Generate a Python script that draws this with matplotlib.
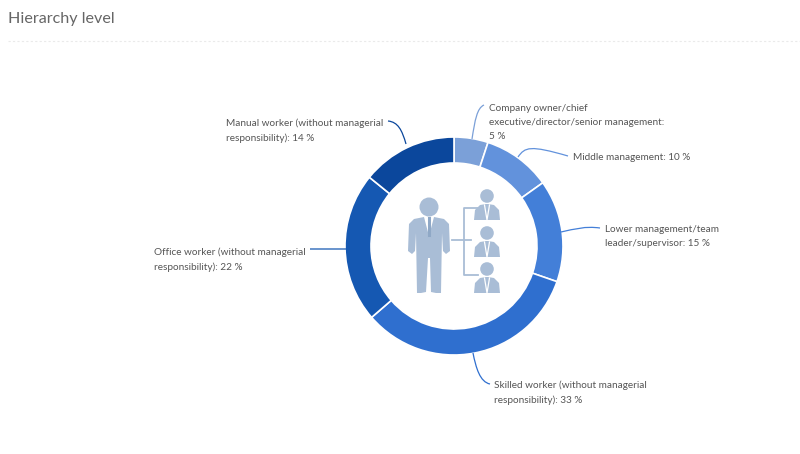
import matplotlib
matplotlib.use("Agg")
import matplotlib.pyplot as plt
from matplotlib.patches import Circle, PathPatch, Polygon
from matplotlib.path import Path

plt.rcParams['font.family'] = ['Lato', 'DejaVu Sans']

title = "Hierarchy level"
categories = ["Company owner/chief\nexecutive/director/senior management:\n5 %",
              "Middle management: 10 %",
              "Lower management/team\nleader/supervisor: 15 %",
              "Skilled worker (without managerial\nresponsibility): 33 %",
              "Office worker (without managerial\nresponsibility): 22 %",
              "Manual worker (without managerial\nresponsibility): 14 %"]
values = [5, 10, 15, 33, 22, 14]
colors = ["#7BA0D8", "#6292DC", "#437FD8", "#2F6FCF", "#1558B2", "#0B479C"]
label_xy = [(489, 104), (573, 153.5), (605, 225), (494, 380), (154, 247), (226, 118)]
leaders = [
    [(472, 139), (475, 120), (477, 108), (484, 105)],
    [(518, 157), (525, 147), (530, 145), (568, 156)],
    [(561, 232), (575, 229), (585, 226), (600, 228)],
    [(473, 353), (476, 368), (480, 382), (490, 384)],
    [(346, 249), (335, 249), (325, 249), (310, 249)],
    [(406, 144), (402, 130), (398, 122), (388, 121)],
]
W, H = 800, 454
CX, CY, RO, RI = 454, 246, 109, 83
ICON = "#A9BDD6"
TEXT = "#555555"

fig = plt.figure(figsize=(W / 100, H / 100), dpi=100, facecolor="white")
bg = fig.add_axes([0, 0, 1, 1])
bg.set_xlim(0, W); bg.set_ylim(H, 0); bg.axis("off")

pie_ax = fig.add_axes([(CX - RO) / W, (H - CY - RO) / H, 2 * RO / W, 2 * RO / H])
pie_ax.pie(values, colors=colors, startangle=90, counterclock=False, radius=1,
           wedgeprops=dict(width=(RO - RI) / RO, edgecolor="white", linewidth=1.2))
pie_ax.set_xlim(-1, 1); pie_ax.set_ylim(-1, 1)

fg = fig.add_axes([0, 0, 1, 1])
fg.set_xlim(0, W); fg.set_ylim(H, 0); fg.axis("off"); fg.patch.set_alpha(0)

fg.text(8, 18.5, title, fontsize=11.6, color="#666666", va="center", ha="left")
fg.plot([8, 800], [40.5, 40.5], color="#EAEAEA", lw=0.8, ls=(0, (2, 2)))

for lab, (x, y), pts, c in zip(categories, label_xy, leaders, colors):
    fg.text(x, y, lab, fontsize=7.2, color=TEXT, va="top", ha="left", linespacing=1.72)
    fg.add_patch(PathPatch(Path(pts, [Path.MOVETO, Path.CURVE4, Path.CURVE4, Path.CURVE4]),
                           fc="none", ec=c, lw=0.9))

# Large figure
fg.add_patch(Circle((429, 207), 9.5, fc=ICON, ec="none"))
fg.add_patch(Polygon([(414, 219), (424, 217), (429, 236), (434, 217), (444, 219), (449, 224),
                      (450, 251), (446, 254), (443, 251), (442, 233), (441, 293), (436, 293),
                      (431, 292), (430, 258), (428, 258), (426, 292), (421, 293), (417, 293),
                      (416, 233), (415, 251), (412, 254), (408, 251), (409, 224)],
                     closed=True, fc=ICON, ec="none"))
fg.plot([429, 429], [218, 235], color="#8FA8C6", lw=2.2)

# Connector
fg.plot([452, 471], [240, 240], color=ICON, lw=1.3)
fg.plot([478, 464, 464, 478], [208, 208, 275, 275], color=ICON, lw=1.3)

# Small figures
for yc in [196, 233, 269]:
    fg.add_patch(Circle((487, yc), 6.8, fc=ICON, ec="none"))
    fg.add_patch(Polygon([(474, yc + 24), (475, yc + 14), (480, yc + 9), (486, yc + 8),
                          (488, yc + 8), (494, yc + 9), (499, yc + 14), (500, yc + 24)],
                         closed=True, fc=ICON, ec="none"))
    fg.plot([484.5, 487, 489.5], [yc + 9, yc + 24, yc + 9], color="white", lw=0.9)

fig.savefig("out.png", dpi=100, facecolor="white")
